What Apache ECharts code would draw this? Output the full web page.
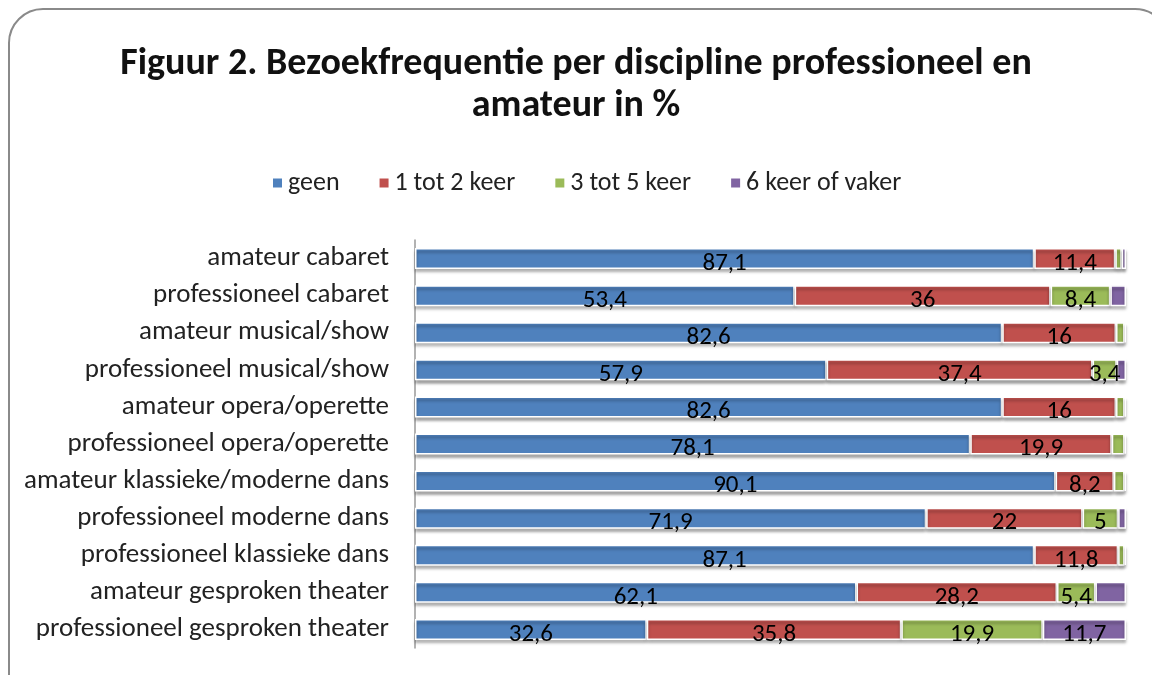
<!DOCTYPE html>
<html>
<head>
<meta charset="utf-8">
<script src="https://cdn.jsdelivr.net/npm/echarts@6/dist/echarts.min.js"></script>
<style>
  html, body { margin: 0; padding: 0; background: #fff; }
  #main { width: 1152px; height: 675px; }
</style>
</head>
<body>
<div id="main"></div>
<script>
// categorieën (van boven naar beneden)
const categories = [
  'amateur cabaret',
  'professioneel cabaret',
  'amateur musical/show',
  'professioneel musical/show',
  'amateur opera/operette',
  'professioneel opera/operette',
  'amateur klassieke/moderne dans',
  'professioneel moderne dans',
  'professioneel klassieke dans',
  'amateur gesproken theater',
  'professioneel gesproken theater'
];
const seriesNames = ['geen', '1 tot 2 keer', '3 tot 5 keer', '6 keer of vaker'];
const geen   = [87.1, 53.4, 82.6, 57.9, 82.6, 78.1, 90.1, 71.9, 87.1, 62.1, 32.6];
const keer12 = [11.4, 36,   16,   37.4, 16,   19.9, 8.2,  22,   11.8, 28.2, 35.8];
const keer35 = [0.9,  8.4,  1.2,  3.4,  1.2,  1.8,  1.5,  5,    0.9,  5.4,  19.9];
const keer6  = [0.6,  2.2,  0.2,  1.3,  0.2,  0.2,  0.2,  1.1,  0.2,  4.3,  11.7];
const colors = ['#4F81BD', '#C0504D', '#9BBB59', '#8064A2'];
// minimale waarde om een label te tonen, per reeks
const labelMin = [3, 3, 3, 5];

const FONT = 'Carlito, Lato, "Open Sans", sans-serif';

let myChart = echarts.init(document.getElementById('main'));

function makeSeries(name, data, idx) {
  return {
    name: name,
    type: 'bar',
    stack: 'totaal',
    barWidth: 21,
    data: data,
    itemStyle: {
      color: colors[idx],
      borderColor: '#fff',
      borderWidth: 1.5,
      shadowColor: 'rgba(0,0,0,0.35)',
      shadowBlur: 3,
      shadowOffsetY: 3
    },
    label: {
      show: true,
      position: 'inside',
      offset: [0, 5],
      color: '#000',
      fontSize: 25,
      fontFamily: FONT,
      formatter: p => p.value >= labelMin[idx] ? String(p.value).replace('.', ',') : ''
    }
  };
}

let option = {
  animation: false,
  title: {
    text: 'Figuur 2. Bezoekfrequentie per discipline professioneel en\namateur in %',
    left: 'center',
    top: 38,
    textStyle: {
      fontFamily: FONT,
      fontWeight: 'bold',
      fontSize: 38,
      lineHeight: 42,
      color: '#111'
    }
  },
  legend: {
    top: 165,
    left: 266,
    itemWidth: 11,
    itemHeight: 11,
    itemGap: 38,
    icon: 'rect',
    textStyle: { fontFamily: FONT, fontSize: 26, color: '#222' },
    data: seriesNames
  },
  grid: { left: 415, right: 26, top: 240, bottom: 27 },
  xAxis: {
    type: 'value',
    min: 0,
    max: 100,
    show: false
  },
  yAxis: {
    type: 'category',
    inverse: true,
    data: categories,
    axisLine: { show: true, lineStyle: { color: '#999', width: 1.5 } },
    axisTick: { show: false },
    axisLabel: { fontFamily: FONT, fontSize: 27, color: '#222', margin: 26 }
  },
  graphic: [{
    type: 'rect',
    shape: { x: 9, y: 9, width: 1160, height: 700, r: 34 },
    style: { fill: 'none', stroke: '#8a8a8a', lineWidth: 2 },
    silent: true
  }],
  series: [
    makeSeries(seriesNames[0], geen, 0),
    makeSeries(seriesNames[1], keer12, 1),
    makeSeries(seriesNames[2], keer35, 2),
    makeSeries(seriesNames[3], keer6, 3)
  ]
};

myChart.setOption(option);
</script>
</body>
</html>
